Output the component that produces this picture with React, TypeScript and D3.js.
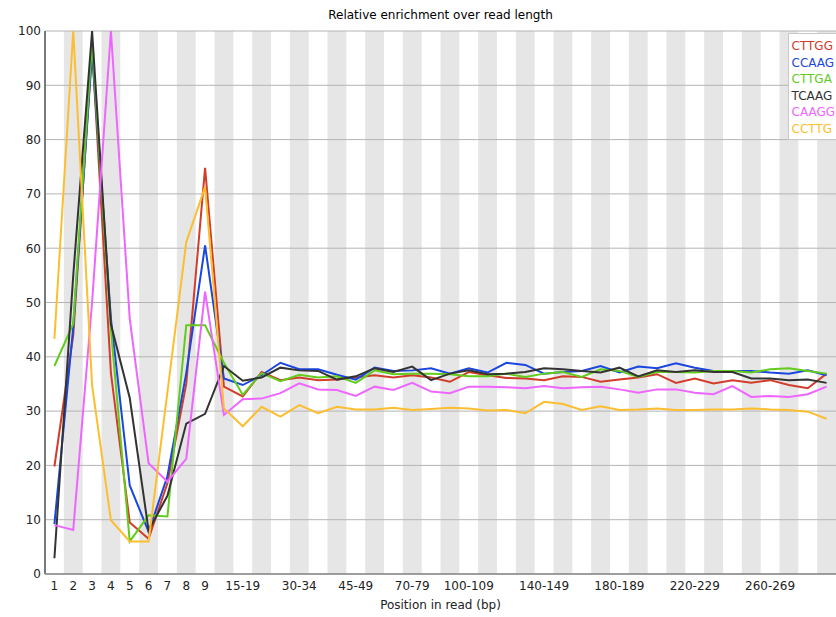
import React from "react";
import * as d3 from "d3";

const categories = [
  "1","2","3","4","5","6","7","8","9",
  "10-14","15-19","20-24","25-29","30-34","35-39","40-44","45-49",
  "50-59","60-69","70-79","80-89","90-99","100-109","110-119","120-129",
  "130-139","140-149","150-159","160-169","170-179","180-189","190-199",
  "200-209","210-219","220-229","230-239","240-249","250-259","260-269",
  "270-279","280-289","290-299",
];

const shownTickLabels = [
  "1","2","3","4","5","6","7","8","9","15-19","30-34","45-49","70-79",
  "100-109","140-149","180-189","220-229","260-269",
];

const yTicks = [0, 10, 20, 30, 40, 50, 60, 70, 80, 90, 100];

const seriesNames = ["CTTGG", "CCAAG", "CTTGA", "TCAAG", "CAAGG", "CCTTG"];
const seriesColors = ["#d23c2a", "#1a46e0", "#62cc1c", "#333333", "#ee66ff", "#fcbe30"];

const cttgg = [19.8,44,97,37,9.5,6.5,16.7,35,74.8,34.5,32.7,37.2,35.7,36.2,35.7,35.8,36.2,36.6,36.2,36.6,36.2,35.4,37.2,36.6,36.1,36,35.7,36.4,36.3,35.4,35.8,36.2,36.8,35.2,36,35.1,35.7,35.2,35.7,34.8,34.2,36.9];
const ccaag = [9.2,45.5,96,47,16.3,7.8,18,37,60.5,36,34.8,36.6,38.9,37.7,37.7,36.7,35.8,38,37.4,37.5,37.9,36.9,37.9,37.1,38.9,38.5,36.9,37.2,37.4,38.3,37.1,38.2,37.9,38.8,38,37.4,37.4,37.4,37.1,36.9,37.5,36.6];
const cttga = [38.3,46.1,98,45,6,10.8,10.6,45.8,45.8,38.9,33,37,35.5,36.7,36.2,36.4,35.2,37.5,36.8,36.9,36.9,36.8,36.4,36.4,36.9,36.3,36.9,37.2,36.3,37.7,37.4,36.3,37.2,37.2,37.1,37.4,37.4,37.1,37.7,37.9,37.4,36.9];
const tcaag = [2.9,55,100,46,32.4,8,14.4,27.7,29.5,38.3,35.6,36.2,38,37.5,37.4,35.8,36.4,37.9,37.2,38.2,35.7,36.9,37.5,36.8,36.9,37.2,37.9,37.7,37.4,37.1,38,36.4,37.5,37.2,37.5,37.2,37.2,36,36,35.7,35.8,35.2];
const caagg = [9,8.1,50,100,47,20.4,17,21.2,52,29.3,32.2,32.3,33.3,35.1,34,33.9,32.8,34.5,33.9,35.2,33.6,33.3,34.5,34.5,34.4,34.2,34.6,34.2,34.4,34.5,34,33.4,34,34,33.4,33.1,34.6,32.6,32.8,32.6,33.1,34.5];
const ccttg = [43.3,100,34.8,9.9,6,6,33.5,61.1,71.3,30.5,27.2,30.8,29,31.1,29.6,30.8,30.3,30.3,30.6,30.2,30.4,30.6,30.5,30.1,30.2,29.6,31.7,31.3,30.2,30.9,30.2,30.3,30.5,30.2,30.2,30.3,30.3,30.5,30.3,30.2,29.9,28.6];

const seriesValues = [cttgg, ccaag, cttga, tcaag, caagg, ccttg];

const W = 836;
const H = 617;
const left = 45;
const right = 836;
const top = 31;
const bottom = 574;
const FONT = "'DejaVu Sans', Verdana, sans-serif";

export default function App() {
  const x = d3.scaleBand<string>().domain(categories).range([left, right]).padding(0);
  const y = d3.scaleLinear().domain([0, 100]).range([bottom, top]);
  const bw = x.bandwidth();
  const cx = (c: string) => (x(c) as number) + bw / 2;

  const line = d3
    .line<number>()
    .x((_, i) => cx(categories[i]))
    .y((v) => y(v));

  return (
    <svg
      width={W}
      height={H}
      style={{ position: "absolute", left: 0, top: 0, background: "#fff" }}
      fontFamily={FONT}
    >
      <defs>
        <clipPath id="plotclip">
          <rect x={left} y={top - 1} width={right - left} height={bottom - top + 1} />
        </clipPath>
      </defs>
      {/* stripes */}
      {categories.map((c, i) =>
        i % 2 === 1 ? (
          <rect key={"s" + c} x={x(c)} y={top} width={bw} height={bottom - top} fill="#e6e6e6" />
        ) : null
      )}
      {/* grid */}
      {yTicks.map((t) => (
        <line key={"g" + t} x1={left} x2={right} y1={y(t)} y2={y(t)} stroke="#b4b4b4" strokeWidth={1} />
      ))}
      {/* y tick labels */}
      {yTicks.map((t) => (
        <text key={"yl" + t} x={41} y={y(t)} dy="0.36em" textAnchor="end" fontSize={12} fill="#222">
          {t}
        </text>
      ))}
      {/* axes */}
      <line x1={left} x2={left} y1={top} y2={bottom} stroke="#7a7a7a" strokeWidth={2} />
      <line x1={left} x2={right} y1={bottom} y2={bottom} stroke="#8a8a8a" strokeWidth={1.5} />
      {/* x tick labels */}
      {categories.map((c) =>
        shownTickLabels.includes(c) ? (
          <text key={"xl" + c} x={cx(c)} y={590} textAnchor="middle" fontSize={12} fill="#222">
            {c}
          </text>
        ) : null
      )}
      {/* lines */}
      <g clipPath="url(#plotclip)">
        {seriesValues.map((vals, si) => (
          <path
            key={"l" + si}
            d={line(vals) || ""}
            fill="none"
            stroke={seriesColors[si]}
            strokeWidth={2}
            strokeLinejoin="miter"
          />
        ))}
      </g>
      {/* title */}
      <text x={(left + right) / 2} y={19} textAnchor="middle" fontSize={12} fill="#000">
        Relative enrichment over read length
      </text>
      <text x={(left + right) / 2} y={609} textAnchor="middle" fontSize={12} fill="#222">
        Position in read (bp)
      </text>
      {/* legend */}
      <rect x={788.5} y={33.5} width={60} height={106} fill="#fff" stroke="#c8c8c8" strokeWidth={1} />
      {seriesNames.map((n, i) => (
        <text key={"lg" + n} x={791.5} y={50 + i * 16.6} fontSize={12} fill={seriesColors[i]}>
          {n}
        </text>
      ))}
    </svg>
  );
}
